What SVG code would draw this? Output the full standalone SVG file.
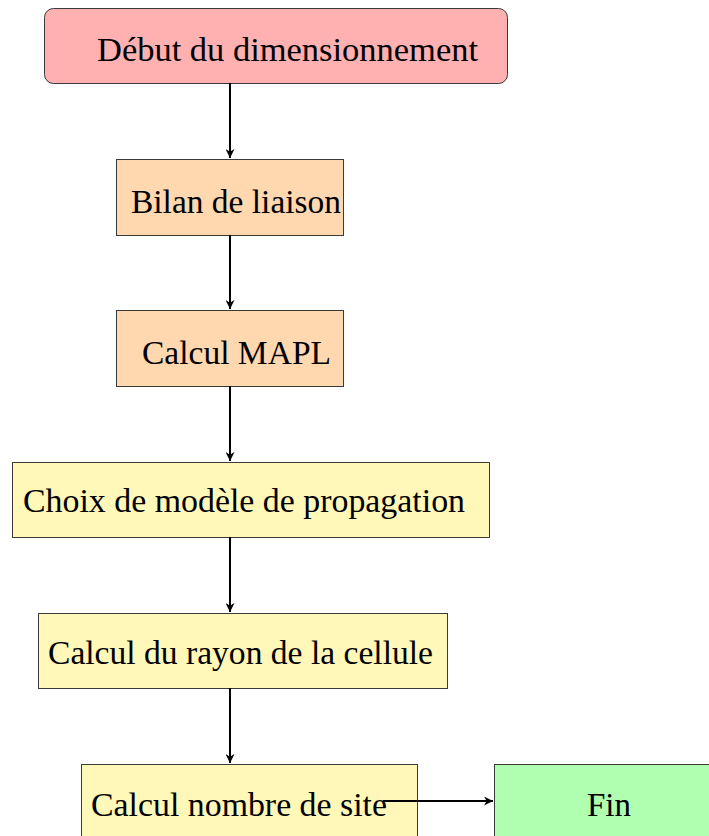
<svg xmlns="http://www.w3.org/2000/svg" width="709" height="836" viewBox="0 0 709 836">
  <style>
    .box { stroke: #3a3a3a; stroke-width: 1; }
    .start { fill: #ffb0b0; }
    .peach { fill: #ffd8b0; }
    .yellow { fill: #fff8b8; }
    .end { fill: #b0ffb0; }
    .lbl { font-family: "Liberation Serif", "Times New Roman", serif; font-size: 33px; fill: #000; }
    .edge { stroke: #000; stroke-width: 2; fill: none; marker-end: url(#arrow); }
  </style>
  <defs>
    <marker id="arrow" viewBox="0 0 10 10" refX="10" refY="5" markerWidth="9" markerHeight="9" orient="auto" markerUnits="userSpaceOnUse">
      <path d="M0,0 L10,5 L0,10 L3,5 z" fill="#000"/>
    </marker>
  </defs>
  <rect width="709" height="836" fill="#fff"/>

  <g id="debut">
    <rect class="box start" x="44.5" y="8.5" width="463" height="75" rx="9"/>
    <text class="lbl" x="97" y="61" textLength="381" lengthAdjust="spacingAndGlyphs">Début du dimensionnement</text>
  </g>
  <g id="bilan">
    <rect class="box peach" x="116.5" y="159.5" width="227" height="76"/>
    <text class="lbl" x="131" y="213" textLength="210" lengthAdjust="spacingAndGlyphs">Bilan de liaison</text>
  </g>
  <g id="mapl">
    <rect class="box peach" x="116.5" y="310.5" width="227" height="76"/>
    <text class="lbl" x="142" y="364" textLength="189" lengthAdjust="spacingAndGlyphs">Calcul MAPL</text>
  </g>
  <g id="modele">
    <rect class="box yellow" x="12.5" y="462.5" width="477" height="75"/>
    <text class="lbl" x="23" y="512" textLength="442" lengthAdjust="spacingAndGlyphs">Choix de modèle de propagation</text>
  </g>
  <g id="rayon">
    <rect class="box yellow" x="38.5" y="613.5" width="409" height="75"/>
    <text class="lbl" x="48" y="664" textLength="385" lengthAdjust="spacingAndGlyphs">Calcul du rayon de la cellule</text>
  </g>
  <g id="site">
    <rect class="box yellow" x="81.5" y="764.5" width="336" height="80"/>
    <text class="lbl" x="91" y="816" textLength="296" lengthAdjust="spacingAndGlyphs">Calcul nombre de site</text>
  </g>
  <g id="fin">
    <rect class="box end" x="494.5" y="764.5" width="230" height="80"/>
    <text class="lbl" x="609" y="816" text-anchor="middle">Fin</text>
  </g>

  <!-- connectors drawn last so the last one sits on top of its source box -->
  <g id="connectors">
    <line class="edge" x1="230" y1="83" x2="230" y2="158"/>
    <line class="edge" x1="230" y1="235" x2="230" y2="309"/>
    <line class="edge" x1="230" y1="386" x2="230" y2="461"/>
    <line class="edge" x1="230" y1="537" x2="230" y2="612"/>
    <line class="edge" x1="230" y1="688" x2="230" y2="763"/>
    <line class="edge" x1="383" y1="801" x2="493" y2="801"/>
  </g>
</svg>
